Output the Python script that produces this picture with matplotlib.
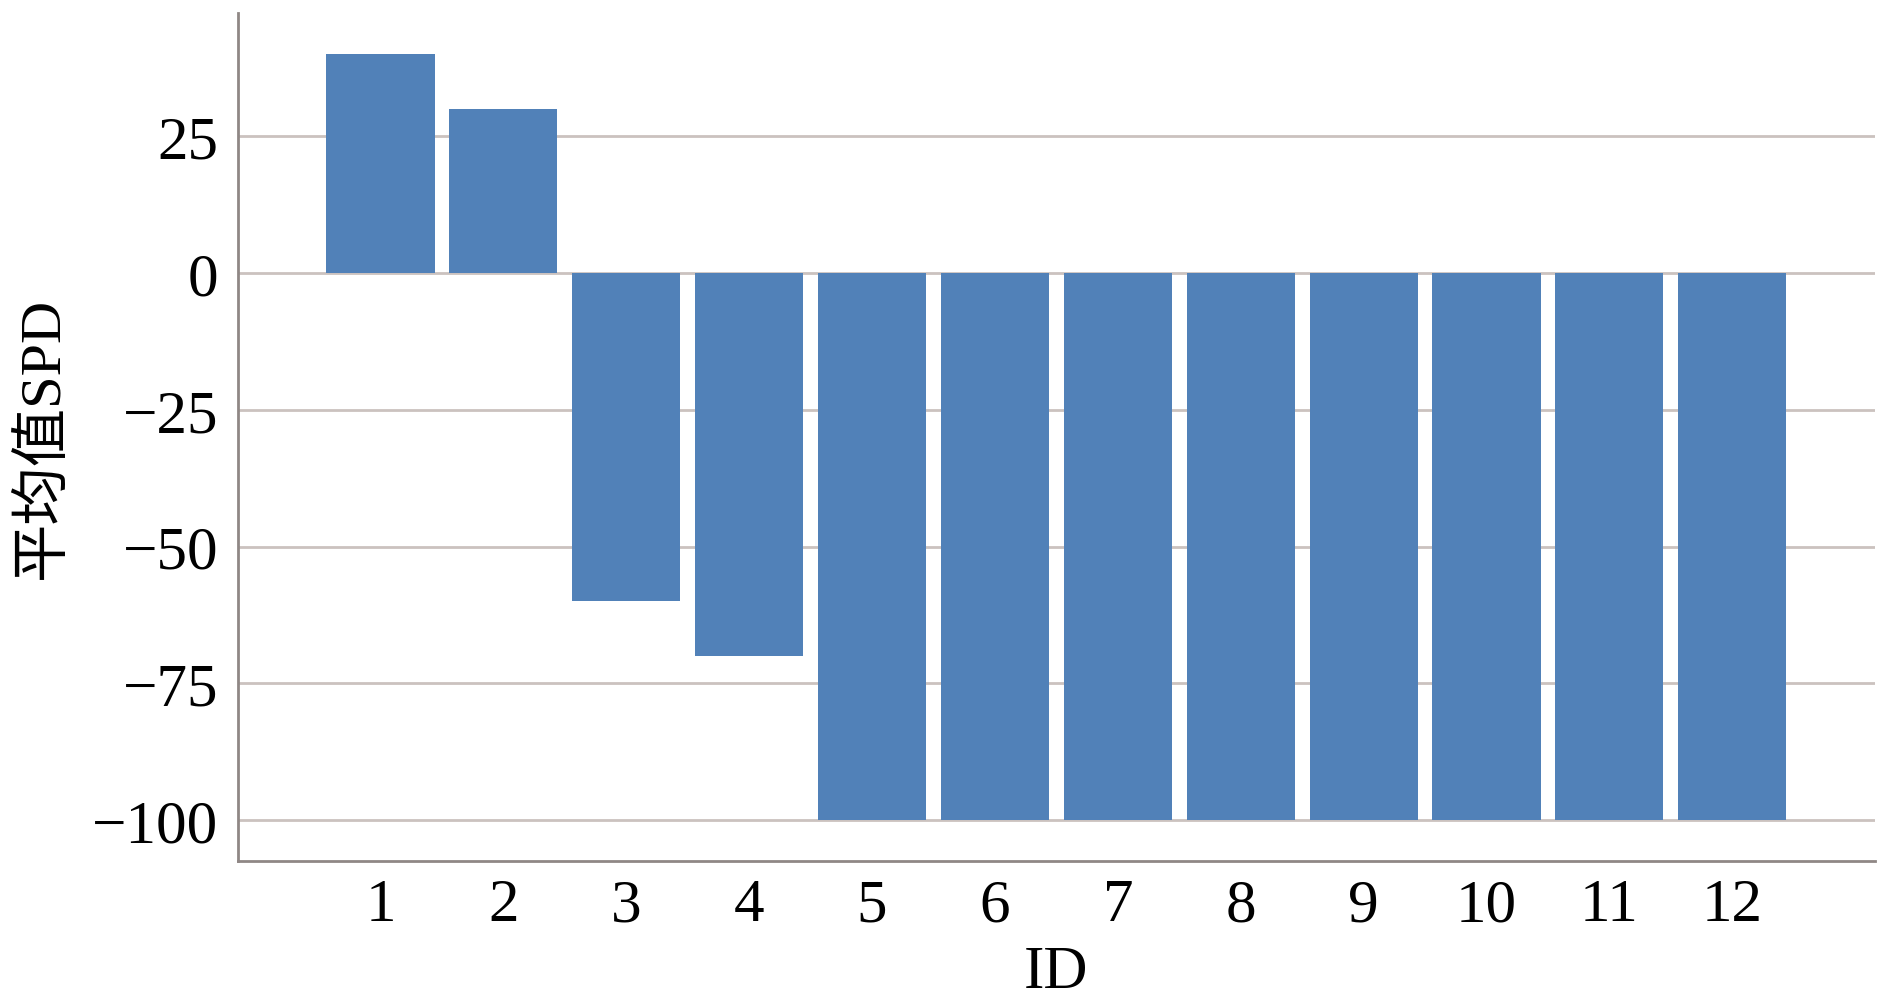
import matplotlib
matplotlib.use('Agg')
import matplotlib.pyplot as plt

ids = [1, 2, 3, 4, 5, 6, 7, 8, 9, 10, 11, 12]
spd_mean = [40, 30, -60, -70, -100, -100, -100, -100, -100, -100, -100, -100]
yticks = [25, 0, -25, -50, -75, -100]

plt.rcParams['font.family'] = ['Liberation Serif', 'Noto Sans CJK SC']
plt.rcParams['axes.unicode_minus'] = True

fig = plt.figure(figsize=(18.93, 10.04), dpi=100)
ax = fig.add_axes([0.1257, 0.1414, 0.8647, 0.8442])

ax.bar(ids, spd_mean, width=0.88, color='#5181b8', zorder=3)

ax.set_xlim(-0.16, 13.16)
ax.set_ylim(-107.5, 47.5)
ax.set_yticks(yticks)
ax.set_xticks(ids)
ax.grid(axis='y', color='#cbc2bf', linewidth=2, zorder=0)

for s in ['top', 'right']:
    ax.spines[s].set_visible(False)
for s in ['left', 'bottom']:
    ax.spines[s].set_color('#8f8785')
    ax.spines[s].set_linewidth(2)

ax.tick_params(axis='both', length=0, labelsize=44)
ax.tick_params(axis='y', pad=14)
ax.tick_params(axis='x', pad=12)

ax.set_xlabel('ID', fontsize=44)
ax.set_ylabel('平均值SPD', fontsize=42)
ax.xaxis.set_label_coords(0.5, -0.098)
ax.yaxis.set_label_coords(-0.103, 0.5)

fig.savefig('out.png', dpi=100)
